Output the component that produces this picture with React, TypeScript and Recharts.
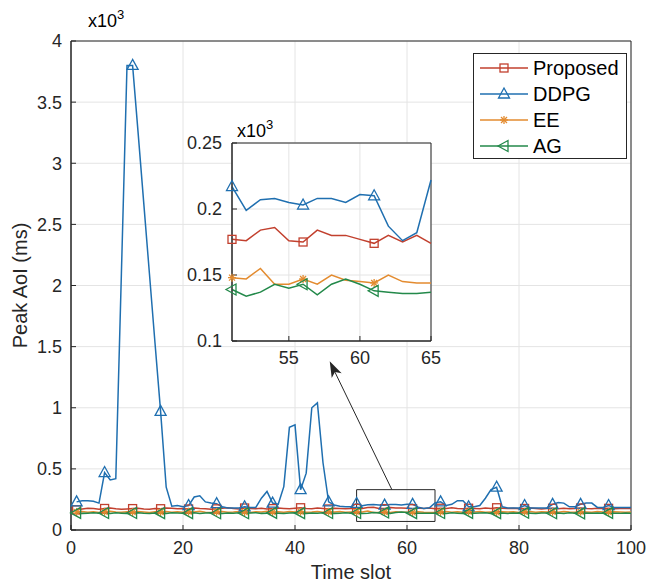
import React from 'react';
import {
  CartesianGrid,
  Legend,
  Line,
  LineChart,
  ReferenceArea,
  ReferenceLine,
  XAxis,
  YAxis,
} from 'recharts';

// time slots 1..100
const timeSlots = Array.from({ length: 100 }, (_, i) => i + 1);

// peak AoI, in units of 10^3 ms
const proposed = [
  0.165, 0.172, 0.178, 0.175, 0.17, 0.176, 0.18, 0.174, 0.17, 0.172,
  0.175, 0.178, 0.172, 0.17, 0.176, 0.174, 0.18, 0.178, 0.173, 0.176,
  0.172, 0.18, 0.176, 0.174, 0.17, 0.173, 0.178, 0.182, 0.176, 0.172,
  0.18, 0.176, 0.174, 0.178, 0.172, 0.175, 0.18, 0.176, 0.173, 0.178,
  0.182, 0.176, 0.174, 0.179, 0.175, 0.172, 0.178, 0.176, 0.173, 0.175,
  0.177, 0.176, 0.184, 0.186, 0.176, 0.175, 0.184, 0.18, 0.18, 0.177,
  0.174, 0.18, 0.175, 0.18, 0.174, 0.178, 0.176, 0.181, 0.175, 0.173,
  0.178, 0.176, 0.174, 0.179, 0.176, 0.182, 0.178, 0.175, 0.177, 0.173,
  0.176, 0.179, 0.175, 0.172, 0.176, 0.178, 0.174, 0.177, 0.173, 0.176,
  0.18, 0.176, 0.174, 0.178, 0.175, 0.177, 0.174, 0.176, 0.178, 0.175,
];
const ddpg = [
  0.23, 0.24, 0.24, 0.235, 0.22, 0.47, 0.41, 0.42, 2.1, 3.8,
  3.8, 3.24, 2.67, 2.1, 1.53, 0.97, 0.35, 0.195, 0.2, 0.19,
  0.2, 0.27, 0.28, 0.23, 0.22, 0.215, 0.19, 0.18, 0.18, 0.18,
  0.19, 0.185, 0.185, 0.26, 0.315, 0.22, 0.21, 0.355, 0.84, 0.86,
  0.33, 0.465, 1.0, 1.04, 0.55, 0.23, 0.205, 0.195, 0.19, 0.19,
  0.217, 0.199, 0.207, 0.208, 0.205, 0.203, 0.208, 0.208, 0.205, 0.211,
  0.21, 0.187, 0.176, 0.182, 0.222, 0.23, 0.2, 0.21, 0.24, 0.24,
  0.19, 0.19, 0.2, 0.26, 0.33, 0.35, 0.19, 0.18, 0.18, 0.18,
  0.2, 0.18, 0.18, 0.18, 0.18, 0.21, 0.225, 0.22, 0.19, 0.19,
  0.21, 0.22, 0.22, 0.185, 0.185, 0.2, 0.185, 0.185, 0.185, 0.185,
];
const ee = [
  0.148, 0.152, 0.146, 0.15, 0.144, 0.149, 0.153, 0.147, 0.145, 0.15,
  0.146, 0.151, 0.148, 0.144, 0.15, 0.147, 0.152, 0.146, 0.149, 0.145,
  0.15, 0.147, 0.153, 0.146, 0.144, 0.149, 0.151, 0.146, 0.148, 0.152,
  0.147, 0.144, 0.15, 0.148, 0.153, 0.146, 0.149, 0.145, 0.151, 0.147,
  0.15, 0.146, 0.148, 0.152, 0.145, 0.149, 0.147, 0.151, 0.146, 0.148,
  0.148, 0.147, 0.155, 0.143, 0.143, 0.147, 0.143, 0.15, 0.146, 0.145,
  0.144, 0.15, 0.145, 0.144, 0.144, 0.148, 0.151, 0.146, 0.149, 0.145,
  0.15, 0.147, 0.152, 0.146, 0.148, 0.145, 0.15, 0.147, 0.149, 0.144,
  0.148, 0.151, 0.146, 0.15, 0.147, 0.149, 0.145, 0.152, 0.147, 0.146,
  0.15, 0.148, 0.145, 0.151, 0.147, 0.146, 0.149, 0.147, 0.145, 0.148,
];
const ag = [
  0.14, 0.136, 0.138, 0.142, 0.137, 0.139, 0.135, 0.141, 0.138, 0.136,
  0.139, 0.142, 0.137, 0.135, 0.14, 0.138, 0.136, 0.141, 0.139, 0.137,
  0.138, 0.141, 0.136, 0.139, 0.142, 0.137, 0.135, 0.14, 0.138, 0.141,
  0.137, 0.139, 0.142, 0.136, 0.138, 0.14, 0.137, 0.135, 0.139, 0.141,
  0.138, 0.136, 0.14, 0.137, 0.142, 0.139, 0.136, 0.138, 0.141, 0.137,
  0.139, 0.134, 0.137, 0.143, 0.14, 0.143, 0.135, 0.143, 0.147, 0.143,
  0.138, 0.137, 0.136, 0.136, 0.137, 0.139, 0.136, 0.141, 0.138, 0.135,
  0.14, 0.137, 0.139, 0.142, 0.136, 0.138, 0.14, 0.136, 0.139, 0.137,
  0.141, 0.138, 0.135, 0.139, 0.14, 0.137, 0.139, 0.136, 0.141, 0.138,
  0.136, 0.14, 0.137, 0.139, 0.138, 0.14, 0.137, 0.136, 0.139, 0.138,
];

const xTicks = [0, 20, 40, 60, 80, 100];
const yTicks = [0, 0.5, 1, 1.5, 2, 2.5, 3, 3.5, 4];
const insetXTicks = [55, 60, 65];
const insetYTicks = [0.1, 0.15, 0.2, 0.25];
const zoomSlots = [51, 65];
const zoomBox = [0.07, 0.33];
// arrow from the zoom box up to the inset (data coords)
const arrowFrom = { x: 57.3, y: 0.33 };
const arrowTo = { x: 46.2, y: 1.38 };

const INK = '#262626';
const GRID = '#e4e4e4';
const FONT = '"Liberation Sans", Arial, Helvetica, sans-serif';

type MarkerKind = 'square' | 'triangle' | 'asterisk' | 'triangleLeft';

const series: { key: string; name: string; color: string; marker: MarkerKind }[] = [
  { key: 'proposed', name: 'Proposed', color: '#c2402e', marker: 'square' },
  { key: 'ddpg', name: 'DDPG', color: '#1f6fb0', marker: 'triangle' },
  { key: 'ee', name: 'EE', color: '#e38b2f', marker: 'asterisk' },
  { key: 'ag', name: 'AG', color: '#23894a', marker: 'triangleLeft' },
];

const data = timeSlots.map((t, i) => ({
  t,
  proposed: proposed[i],
  ddpg: ddpg[i],
  ee: ee[i],
  ag: ag[i],
}));
const insetData = data.filter((d) => d.t >= zoomSlots[0] && d.t <= zoomSlots[1]);

function Marker({ kind, cx, cy, color }: { kind: MarkerKind; cx: number; cy: number; color: string }) {
  const common = { fill: 'none', stroke: color, strokeWidth: 1.3 };
  switch (kind) {
    case 'square':
      return <rect x={cx - 4} y={cy - 4} width={8} height={8} {...common} />;
    case 'triangle':
      return <polygon points={`${cx},${cy - 6} ${cx - 5.5},${cy + 4} ${cx + 5.5},${cy + 4}`} {...common} />;
    case 'triangleLeft':
      return <polygon points={`${cx - 6},${cy} ${cx + 4},${cy - 5.5} ${cx + 4},${cy + 5.5}`} {...common} />;
    default:
      return (
        <g {...common}>
          <line x1={cx - 4} y1={cy} x2={cx + 4} y2={cy} />
          <line x1={cx} y1={cy - 4} x2={cx} y2={cy + 4} />
          <line x1={cx - 3} y1={cy - 3} x2={cx + 3} y2={cy + 3} />
          <line x1={cx - 3} y1={cy + 3} x2={cx + 3} y2={cy - 3} />
        </g>
      );
  }
}

// markers only on every fifth slot (1, 6, 11, ...)
const makeDot = (kind: MarkerKind, color: string) => (props: any) => {
  const { cx, cy, payload, index } = props;
  if (cx == null || cy == null || payload.t % 5 !== 1) return <g key={`d-${index}`} />;
  return (
    <g key={`d-${index}`}>
      <Marker kind={kind} cx={cx} cy={cy} color={color} />
    </g>
  );
};

function Arrow(props: any) {
  const { x1, y1, x2, y2 } = props;
  const ang = Math.atan2(y2 - y1, x2 - x1);
  const c = Math.cos(ang);
  const s = Math.sin(ang);
  const len = 16;
  const half = 5.5;
  const bx = x2 - len * c;
  const by = y2 - len * s;
  const nx = x2 - (len - 4) * c;
  const ny = y2 - (len - 4) * s;
  return (
    <g>
      <line x1={x1} y1={y1} x2={nx} y2={ny} stroke={INK} strokeWidth={1} />
      <polygon
        points={`${x2},${y2} ${bx - half * s},${by + half * c} ${nx},${ny} ${bx + half * s},${by - half * c}`}
        fill={INK}
      />
    </g>
  );
}

function LegendBox() {
  return (
    <div
      style={{
        border: `1px solid ${INK}`,
        background: '#fff',
        padding: '1px 0 0 5px',
        fontFamily: FONT,
        fontSize: 20,
        color: '#000',
        boxSizing: 'border-box',
        width: 154,
        height: 106,
      }}
    >
      {series.map((s) => (
        <div key={s.key} style={{ display: 'flex', alignItems: 'center', height: 26 }}>
          <svg width={52} height={20}>
            <line x1={1} y1={10} x2={49} y2={10} stroke={s.color} strokeWidth={1.5} />
            <Marker kind={s.marker} cx={25} cy={10} color={s.color} />
          </svg>
          <span style={{ marginLeft: 2 }}>{s.name}</span>
        </div>
      ))}
    </div>
  );
}

const tickStyle = { fill: INK, fontSize: 18, fontFamily: FONT };

export default function App() {
  return (
    <div style={{ position: 'absolute', left: 0, top: 0, width: 660, height: 584, background: '#fff', fontFamily: FONT }}>
      <LineChart width={660} height={584} data={data} margin={{ top: 41, right: 29, bottom: 0, left: 0 }}>
        <CartesianGrid stroke={GRID} vertical horizontal />
        <XAxis
          dataKey="t"
          type="number"
          domain={[0, 100]}
          ticks={xTicks}
          height={54}
          stroke={INK}
          tick={tickStyle}
          tickSize={-5}
          tickMargin={16}
          label={{ value: 'Time slot', position: 'insideBottom', offset: 5, fill: INK, fontSize: 20, fontFamily: FONT }}
        />
        <YAxis
          type="number"
          domain={[0, 4]}
          ticks={yTicks}
          width={71}
          stroke={INK}
          tick={tickStyle}
          tickSize={-5}
          tickMargin={14}
          label={{
            value: 'Peak AoI (ms)',
            angle: -90,
            position: 'insideLeft',
            offset: 20,
            fill: INK,
            fontSize: 20,
            fontFamily: FONT,
            style: { textAnchor: 'middle' },
          }}
        />
        <ReferenceArea x1={0} x2={100} y1={0} y2={4} fill="none" stroke={INK} strokeWidth={1} ifOverflow="visible" />
        {series.map((s) => (
          <Line
            key={s.key}
            dataKey={s.key}
            name={s.name}
            type="linear"
            stroke={s.color}
            strokeWidth={1.5}
            dot={makeDot(s.marker, s.color)}
            activeDot={false}
            isAnimationActive={false}
          />
        ))}
        <ReferenceArea
          x1={zoomSlots[0]}
          x2={zoomSlots[1]}
          y1={zoomBox[0]}
          y2={zoomBox[1]}
          fill="none"
          stroke={INK}
          strokeWidth={1}
          ifOverflow="visible"
        />
        <ReferenceLine segment={[arrowFrom, arrowTo]} shape={Arrow} ifOverflow="visible" />
        <Legend
          content={<LegendBox />}
          layout="horizontal"
          verticalAlign="middle"
          align="center"
          wrapperStyle={{ left: 473, top: 53, width: 154, height: 106 }}
        />
      </LineChart>

      <div style={{ position: 'absolute', left: 180, top: 120 }}>
        <LineChart width={262} height={250} data={insetData} margin={{ top: 23, right: 11, bottom: 0, left: 0 }}>
          <CartesianGrid stroke={GRID} fill="#fff" fillOpacity={1} vertical horizontal />
          <XAxis
            dataKey="t"
            type="number"
            domain={zoomSlots}
            ticks={insetXTicks}
            height={29}
            stroke={INK}
            tick={tickStyle}
            tickSize={-5}
            tickMargin={15}
          />
          <YAxis
            type="number"
            domain={[0.1, 0.25]}
            ticks={insetYTicks}
            width={52}
            stroke={INK}
            tick={tickStyle}
            tickSize={-5}
            tickMargin={15}
          />
          <ReferenceArea x1={51} x2={65} y1={0.1} y2={0.25} fill="none" stroke={INK} strokeWidth={1} ifOverflow="visible" />
          {series.map((s) => (
            <Line
              key={s.key}
              dataKey={s.key}
              name={s.name}
              type="linear"
              stroke={s.color}
              strokeWidth={1.5}
              dot={makeDot(s.marker, s.color)}
              activeDot={false}
              isAnimationActive={false}
            />
          ))}
        </LineChart>
      </div>

      <svg width={660} height={584} style={{ position: 'absolute', left: 0, top: 0, pointerEvents: 'none' }}>
        <text x={88} y={27} fontSize={18} fontFamily={FONT} fill="#000">
          x10<tspan dy={-8} fontSize={13}>3</tspan>
        </text>
        <text x={237} y={137} fontSize={18} fontFamily={FONT} fill="#000">
          x10<tspan dy={-8} fontSize={13}>3</tspan>
        </text>
      </svg>
    </div>
  );
}
